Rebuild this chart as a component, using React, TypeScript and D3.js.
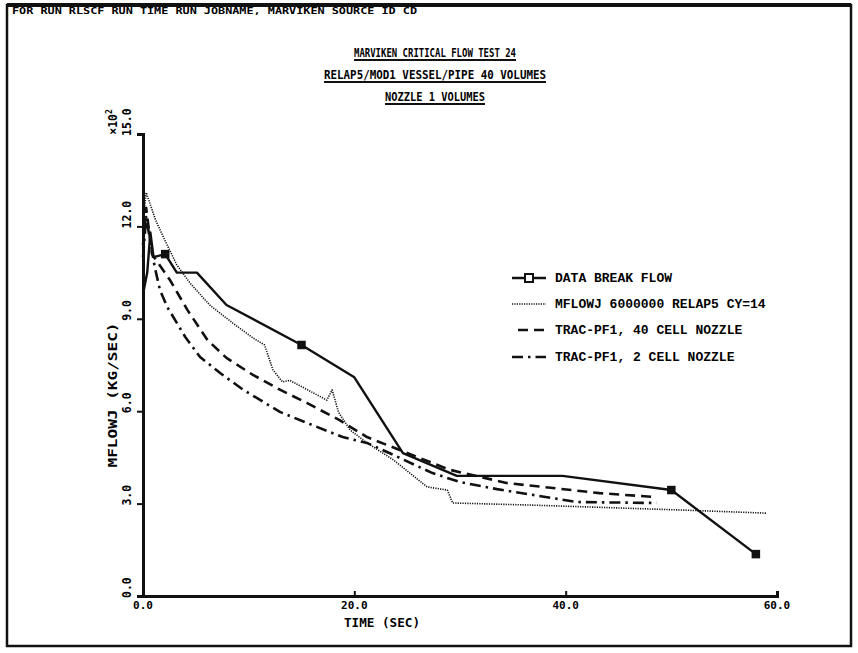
import React, { useEffect, useRef } from 'react';
import * as d3 from 'd3';

const titleLines = ['MARVIKEN CRITICAL FLOW TEST 24', 'RELAP5/MOD1 VESSEL/PIPE 40 VOLUMES', 'NOZZLE 1 VOLUMES'];
const xTicks = [0, 20, 40, 60];
const yTicks = [0, 3, 6, 9, 12, 15];

// data break flow (solid, square markers)
const dataTime = [0, 0.4, 0.7, 1.0, 2.1, 3.2, 5.1, 7.9, 15, 20, 24.6, 29.7, 39.7, 50, 58];
const dataFlow = [9.8, 10.5, 11.8, 11.0, 11.1, 10.5, 10.5, 9.45, 8.15, 7.1, 4.64, 3.9, 3.9, 3.44, 1.36];
const markerTimes = [2.1, 15, 50, 58];

// RELAP5 (dotted)
const relapTime = [0, 0.3, 1.2, 2.0, 3.2, 4.45, 6.3, 8.5, 10.4, 11.5, 12.3, 13.2, 13.9, 17.4, 17.9, 18.5, 19.6, 21.2, 23.7, 26.9, 28.8, 29.3, 36.9, 51.1, 59];
const relapFlow = [12.2, 13.1, 12.2, 11.6, 10.75, 10.16, 9.45, 8.86, 8.38, 8.15, 7.34, 6.95, 7.0, 6.36, 6.69, 5.97, 5.39, 4.97, 4.42, 3.54, 3.44, 3.02, 2.95, 2.79, 2.69];

// TRAC-PF1 40 cell (dashed)
const trac40Time = [0, 0.3, 0.85, 2.55, 4.2, 6.1, 7.9, 10.4, 13, 15.5, 18.6, 21.2, 24.3, 29, 34.4, 43.2, 48.6];
const trac40Flow = [11.4, 12.6, 11.1, 10.26, 9.29, 8.31, 7.73, 7.18, 6.69, 6.27, 5.71, 5.16, 4.74, 4.1, 3.67, 3.34, 3.21];

// TRAC-PF1 2 cell (dash-dot)
const trac2Time = [0, 0.3, 1.1, 1.6, 2.3, 4.0, 5.4, 7.3, 9.5, 13, 15.5, 18.9, 21.2, 23.7, 27.4, 30, 33.5, 41.1, 48.6];
const trac2Flow = [11.0, 12.3, 10.7, 9.94, 9.38, 8.41, 7.76, 7.24, 6.69, 5.97, 5.62, 5.16, 4.97, 4.58, 3.99, 3.7, 3.47, 3.05, 3.02];

const legendLabels = ['DATA BREAK FLOW', 'MFLOWJ 6000000 RELAP5 CY=14', 'TRAC-PF1, 40 CELL NOZZLE', 'TRAC-PF1, 2 CELL NOZZLE'];

const FONT = "'DejaVu Sans Mono', monospace";
const TYPE_FONT = "'Liberation Mono', 'DejaVu Sans Mono', monospace";

const App: React.FC = () => {
  const svgRef = useRef<SVGSVGElement | null>(null);

  useEffect(() => {
    if (!svgRef.current) return;
    const svg = d3.select(svgRef.current);
    svg.selectAll('*').remove();

    const x = d3.scaleLinear().domain([0, 60]).range([143, 777]);
    const y = d3.scaleLinear().domain([0, 15]).range([596, 134]);

    // page frame and header strip
    svg.append('rect').attr('x', 7).attr('y', 5).attr('width', 844).attr('height', 641)
      .attr('fill', 'none').attr('stroke', '#111').attr('stroke-width', 2.5);
    svg.append('line').attr('x1', 7).attr('x2', 851).attr('y1', 5).attr('y2', 5)
      .attr('stroke', '#111').attr('stroke-width', 4);
    svg.append('text').attr('x', 12).attr('y', 14).attr('font-family', FONT).attr('font-weight', 'bold')
      .attr('font-size', 9).attr('textLength', 405).attr('lengthAdjust', 'spacingAndGlyphs')
      .text('FOR RUN  RLSCF RUN TIME RUN  JOBNAME, MARVIKEN SOURCE ID CD');

    // titles
    const titleY = [57, 79, 101];
    const titleW = [162, 222, 100];
    titleLines.forEach((t, i) => {
      svg.append('text').attr('x', 435).attr('y', titleY[i]).attr('text-anchor', 'middle')
        .attr('font-family', FONT).attr('font-weight', 'bold').attr('font-size', 12.5)
        .attr('textLength', titleW[i]).attr('lengthAdjust', 'spacingAndGlyphs').text(t);
      svg.append('line').attr('x1', 435 - titleW[i] / 2).attr('x2', 435 + titleW[i] / 2)
        .attr('y1', titleY[i] + 3).attr('y2', titleY[i] + 3).attr('stroke', '#111').attr('stroke-width', 2);
    });

    // axes
    const xAxis = d3.axisBottom(x).tickValues(xTicks).tickSize(-5).tickFormat(() => '');
    const gx = svg.append('g').attr('transform', 'translate(0,596)').call(xAxis);
    gx.select('.domain').attr('stroke', '#111').attr('stroke-width', 3);
    gx.selectAll('.tick line').attr('stroke', '#111').attr('stroke-width', 2);

    const yAxis = d3.axisLeft(y).tickValues(yTicks).tickSize(6).tickFormat(() => '');
    const gy = svg.append('g').attr('transform', 'translate(143,0)').call(yAxis);
    gy.select('.domain').attr('stroke', '#111').attr('stroke-width', 3);
    gy.selectAll('.tick line').attr('stroke', '#111').attr('stroke-width', 2);

    xTicks.forEach((v) => {
      svg.append('text').attr('x', x(v)).attr('y', 609).attr('text-anchor', 'middle')
        .attr('font-family', FONT).attr('font-weight', 'bold').attr('font-size', 11).text(v.toFixed(1));
    });
    yTicks.forEach((v) => {
      svg.append('text').attr('transform', `translate(131,${y(v) + 2}) rotate(-90)`).attr('text-anchor', 'start')
        .attr('font-family', FONT).attr('font-weight', 'bold').attr('font-size', 11.5).text(v.toFixed(1));
    });
    const mult = svg.append('text').attr('transform', 'translate(117,122) rotate(-90)').attr('text-anchor', 'middle')
      .attr('font-family', FONT).attr('font-weight', 'bold').attr('font-size', 11.5);
    mult.append('tspan').text('×10');
    mult.append('tspan').attr('dy', -5).attr('font-size', 8).text('2');

    svg.append('text').attr('x', 382).attr('y', 627).attr('text-anchor', 'middle')
      .attr('font-family', FONT).attr('font-weight', 'bold').attr('font-size', 12.5)
      .attr('textLength', 76).attr('lengthAdjust', 'spacingAndGlyphs').text('TIME (SEC)');
    svg.append('text').attr('transform', 'translate(117,395) rotate(-90)').attr('text-anchor', 'middle')
      .attr('font-family', FONT).attr('font-weight', 'bold').attr('font-size', 12.5)
      .attr('textLength', 145).attr('lengthAdjust', 'spacingAndGlyphs').text('MFLOWJ (KG/SEC)');

    // series
    const line = d3.line<[number, number]>().x((d) => x(d[0])).y((d) => y(d[1]));
    const zip = (t: number[], v: number[]) => t.map((tt, i) => [tt, v[i]] as [number, number]);
    const series = [
      { pts: zip(dataTime, dataFlow), dash: null, w: 2.4 },
      { pts: zip(relapTime, relapFlow), dash: '1.2,1.2', w: 1.6 },
      { pts: zip(trac40Time, trac40Flow), dash: '10,6', w: 2.6 },
      { pts: zip(trac2Time, trac2Flow), dash: '11,5,2.5,5', w: 2.6 },
    ];
    series.forEach((s) => {
      svg.append('path').datum(s.pts).attr('d', line).attr('fill', 'none')
        .attr('stroke', '#111').attr('stroke-width', s.w)
        .attr('stroke-dasharray', s.dash).attr('stroke-linejoin', 'round');
    });

    svg.selectAll('rect.mk').data(zip(dataTime, dataFlow).filter((d) => markerTimes.includes(d[0])))
      .enter().append('rect').attr('class', 'mk')
      .attr('x', (d) => x(d[0]) - 3.5).attr('y', (d) => y(d[1]) - 3.5)
      .attr('width', 7).attr('height', 7).attr('fill', '#111').attr('stroke', '#111').attr('stroke-width', 1.5);

    // legend
    const legY = [282, 308, 334, 361];
    legendLabels.forEach((lab, i) => {
      const s = series[i];
      svg.append('line').attr('x1', i === 2 ? 518 : 512).attr('x2', 546).attr('y1', legY[i] - 4).attr('y2', legY[i] - 4)
        .attr('stroke', '#111').attr('stroke-width', s.w).attr('stroke-dasharray', s.dash);
      if (i === 0) {
        svg.append('rect').attr('x', 525).attr('y', legY[i] - 8).attr('width', 8).attr('height', 8)
          .attr('fill', '#fff').attr('stroke', '#111').attr('stroke-width', 2);
      }
      svg.append('text').attr('x', 555).attr('y', legY[i]).attr('font-family', TYPE_FONT)
        .attr('font-weight', 'bold').attr('font-size', 13).text(lab);
    });
  }, []);

  return (
    <div style={{ position: 'absolute', left: 0, top: 0 }}>
      <svg ref={svgRef} width={858} height={653} style={{ display: 'block', background: '#fff' }} />
    </div>
  );
};

export default App;
